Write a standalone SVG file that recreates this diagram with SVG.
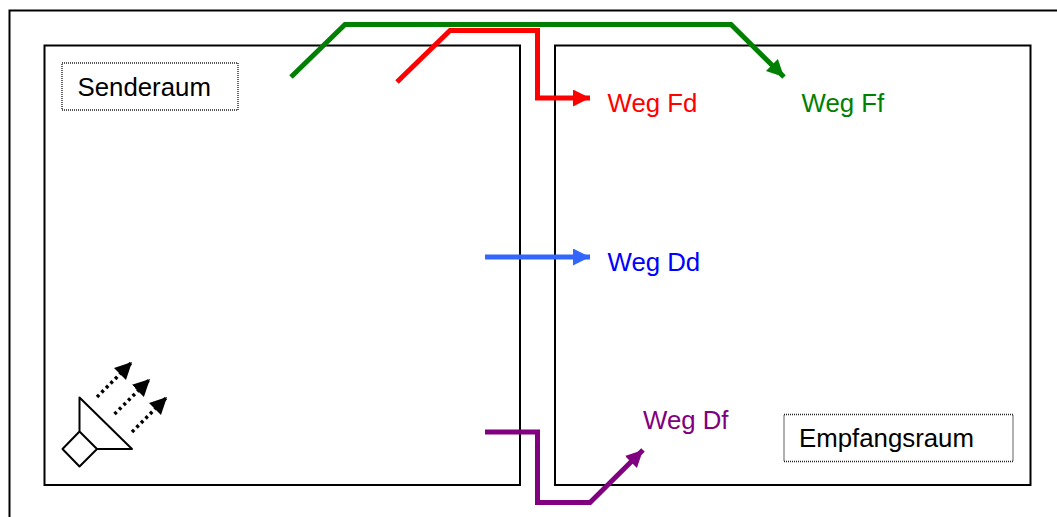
<svg xmlns="http://www.w3.org/2000/svg" width="1057" height="517" viewBox="0 0 1057 517">
<style>
.room{fill:none;stroke:#000;stroke-width:2}
.box{fill:none;stroke:#222;stroke-width:1.4;stroke-dasharray:1 1}
.t{font-family:"Liberation Sans",Arial,sans-serif;font-size:25.8px}
.c{fill:none;stroke-width:5;stroke-linejoin:miter}
.sp{fill:none;stroke:#000;stroke-width:2;stroke-linejoin:round}
.d{fill:none;stroke:#000;stroke-width:3.5;stroke-dasharray:3 3.4}
</style>
<defs>
<marker id="mr" markerUnits="userSpaceOnUse" markerWidth="20" markerHeight="20" refX="17" refY="8.500" orient="auto"><path d="M0 0L17 8.500L0 17z" fill="#f00"/></marker>
<marker id="mb" markerUnits="userSpaceOnUse" markerWidth="20" markerHeight="20" refX="17" refY="8.500" orient="auto"><path d="M0 0L17 8.500L0 17z" fill="#36f"/></marker>
<marker id="mg" markerUnits="userSpaceOnUse" markerWidth="20" markerHeight="20" refX="17" refY="8.500" orient="auto"><path d="M0 0L17 8.500L0 17z" fill="#008000"/></marker>
<marker id="mp" markerUnits="userSpaceOnUse" markerWidth="20" markerHeight="20" refX="17" refY="8.500" orient="auto"><path d="M0 0L17 8.500L0 17z" fill="#800080"/></marker>
<marker id="mk" markerUnits="userSpaceOnUse" markerWidth="20" markerHeight="20" refX="17" refY="8.500" orient="auto"><path d="M0 0L17 8.500L0 17z" fill="#000"/></marker>
</defs>
<rect width="1057" height="517" fill="#fff"/>
<path id="frame" d="M9.500 517V10.500H1057" fill="none" stroke="#000" stroke-width="2"/>
<g id="senderaum">
<rect class="room" x="44.500" y="45.500" width="475.500" height="439.500"/>
<rect class="box" x="62" y="63" width="176" height="47"/>
<text class="t" x="77.500" y="96">Senderaum</text>
</g>
<g id="empfangsraum">
<rect class="room" x="555" y="45.500" width="475.500" height="439.500"/>
<rect class="box" x="784" y="414.500" width="229" height="47"/>
<text class="t" x="799" y="447">Empfangsraum</text>
</g>
<g id="lautsprecher">
<path class="sp" d="M79.500 397.500V431.500L97 449H132ZM79.500 431.500L62.500 449L79.500 466.500L97 449"/>
</g>
<g id="connectors">
<path class="c" stroke="#008000" d="M291 77L345 24.500H731L784 77" marker-end="url(#mg)"/>
<path class="c" stroke="#f00" d="M397 82L450 30.500H537.500V98H590" marker-end="url(#mr)"/>
<path class="c" stroke="#36f" d="M485 257H590" marker-end="url(#mb)"/>
<path class="c" stroke="#800080" d="M485 432H537.500V502.500H590L643 450" marker-end="url(#mp)"/>
<path class="d" d="M97 397L132 362" marker-end="url(#mk)"/>
<path class="d" d="M114.500 414L150 379" marker-end="url(#mk)"/>
<path class="d" d="M132 432L167 397" marker-end="url(#mk)"/>
</g>
<g id="weg-fd"><text class="t" x="607.500" y="112" fill="#f00">Weg Fd</text></g>
<g id="weg-ff"><text class="t" x="801.500" y="112" fill="#008000">Weg Ff</text></g>
<g id="weg-dd"><text class="t" x="607.500" y="271" fill="#00f">Weg Dd</text></g>
<g id="weg-df"><text class="t" x="643" y="429" fill="#800080">Weg Df</text></g>
</svg>
